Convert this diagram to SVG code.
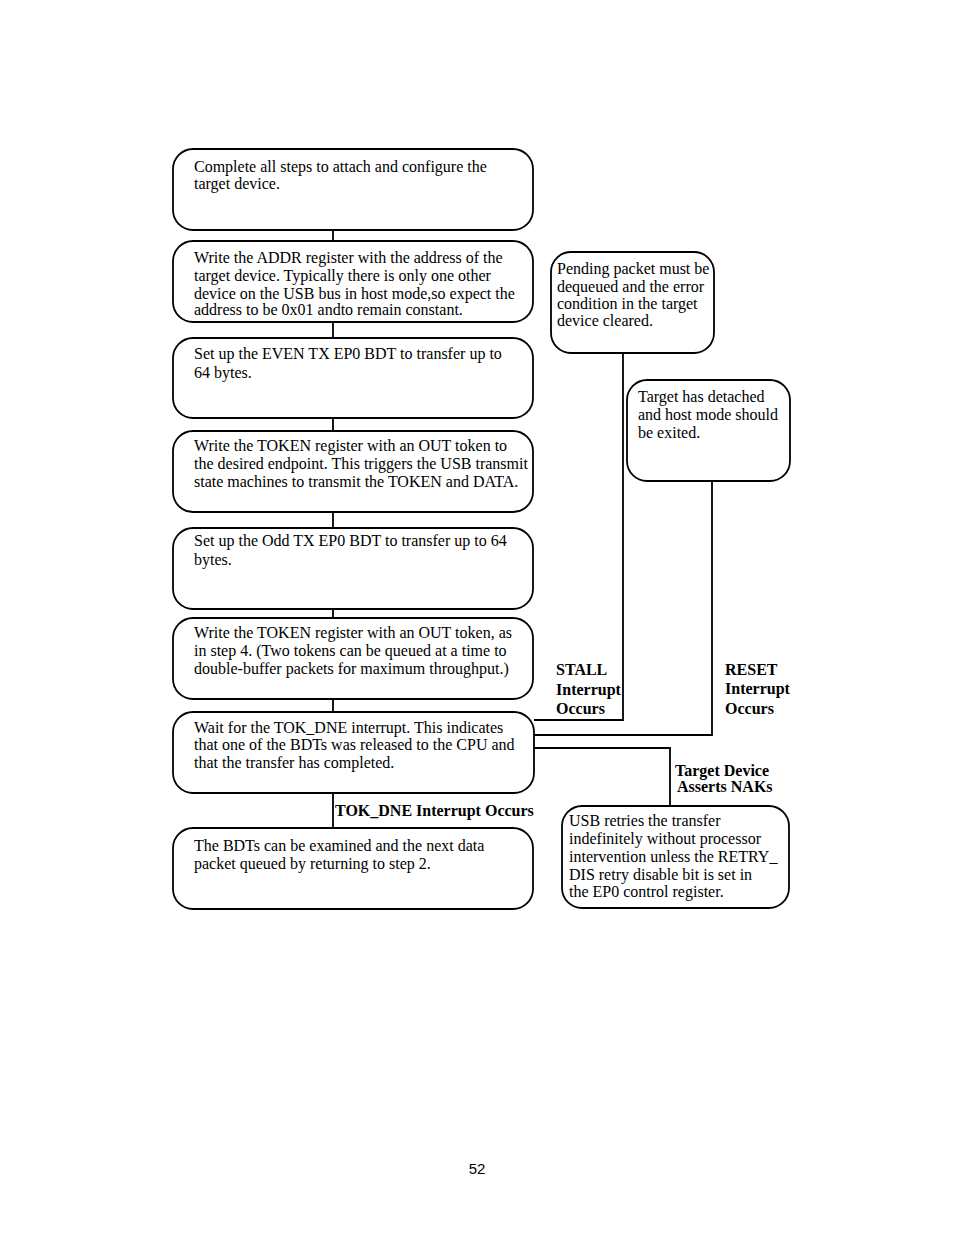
<svg xmlns="http://www.w3.org/2000/svg" width="954" height="1235" viewBox="0 0 954 1235">
<style>
.box{fill:#fff;stroke:#000;stroke-width:1.8}
.t{font-family:"Liberation Serif",serif;font-size:16px;fill:#000}
.b{font-family:"Liberation Serif",serif;font-size:16px;font-weight:bold;fill:#000}
.c{fill:none;stroke:#000;stroke-width:1.8}
.pg{font-family:"Liberation Sans",sans-serif;font-size:15px;fill:#000}
</style>
<rect width="954" height="1235" fill="#fff"/>
<g id="connectors">
<path class="c" d="M333 230V241M333 322V338M333 418V431M333 512V528M333 609V618M333 699V712M333 793V828"/>
<path class="c" d="M534 720H623V354"/>
<path class="c" d="M534 735H712V482"/>
<path class="c" d="M534 748H670V806"/>
</g>
<g id="n1"><rect class="box" x="173" y="149" width="360" height="81" rx="20"/>
<text class="t" x="194" y="172">Complete all steps to attach and configure the</text>
<text class="t" x="194" y="189">target device.</text></g>
<g id="n2"><rect class="box" x="173" y="241" width="360" height="81" rx="20"/>
<text class="t" x="194" y="263">Write the ADDR register with the address of the</text>
<text class="t" x="194" y="281">target device. Typically there is only one other</text>
<text class="t" x="194" y="299">device on the USB bus in host mode,so expect the</text>
<text class="t" x="194" y="315">address to be 0x01 andto remain constant.</text></g>
<g id="n3"><rect class="box" x="173" y="338" width="360" height="80" rx="20"/>
<text class="t" x="194" y="359">Set up the EVEN TX EP0 BDT to transfer up to</text>
<text class="t" x="194" y="378">64 bytes.</text></g>
<g id="n4"><rect class="box" x="173" y="431" width="360" height="81" rx="20"/>
<text class="t" x="194" y="451">Write the TOKEN register with an OUT token to</text>
<text class="t" x="194" y="469">the desired endpoint. This triggers the USB transmit</text>
<text class="t" x="194" y="487">state machines to transmit the TOKEN and DATA.</text></g>
<g id="n5"><rect class="box" x="173" y="528" width="360" height="81" rx="20"/>
<text class="t" x="194" y="546">Set up the Odd TX EP0 BDT to transfer up to 64</text>
<text class="t" x="194" y="565">bytes.</text></g>
<g id="n6"><rect class="box" x="173" y="618" width="360" height="81" rx="20"/>
<text class="t" x="194" y="638">Write the TOKEN register with an OUT token, as</text>
<text class="t" x="194" y="656">in step 4. (Two tokens can be queued at a time to</text>
<text class="t" x="194" y="674">double-buffer packets for maximum throughput.)</text></g>
<g id="n7"><rect class="box" x="173" y="712" width="361" height="81" rx="20"/>
<text class="t" x="194" y="733">Wait for the TOK_DNE interrupt. This indicates</text>
<text class="t" x="194" y="750">that one of the BDTs was released to the CPU and</text>
<text class="t" x="194" y="768">that the transfer has completed.</text></g>
<g id="n8"><rect class="box" x="173" y="828" width="360" height="81" rx="20"/>
<text class="t" x="194" y="851">The BDTs can be examined and the next data</text>
<text class="t" x="194" y="869">packet queued by returning to step 2.</text></g>
<g id="n9"><rect class="box" x="551" y="252" width="163" height="101" rx="20"/>
<text class="t" x="557" y="274">Pending packet must be</text>
<text class="t" x="557" y="292">dequeued and the error</text>
<text class="t" x="557" y="309">condition in the target</text>
<text class="t" x="557" y="326">device cleared.</text></g>
<g id="n10"><rect class="box" x="627" y="380" width="163" height="101" rx="20"/>
<text class="t" x="638" y="402">Target has detached</text>
<text class="t" x="638" y="420">and host mode should</text>
<text class="t" x="638" y="438">be exited.</text></g>
<g id="n11"><rect class="box" x="562" y="806" width="227" height="102" rx="20"/>
<text class="t" x="569" y="826">USB retries the transfer</text>
<text class="t" x="569" y="844">indefinitely without processor</text>
<text class="t" x="569" y="862">intervention unless the RETRY_</text>
<text class="t" x="569" y="880">DIS retry disable bit is set in</text>
<text class="t" x="569" y="897">the EP0 control register.</text></g>
<g id="labels">
<text class="b" x="556" y="675">STALL</text>
<text class="b" x="556" y="695">Interrupt</text>
<text class="b" x="556" y="714">Occurs</text>
<text class="b" x="725" y="675">RESET</text>
<text class="b" x="725" y="694">Interrupt</text>
<text class="b" x="725" y="714">Occurs</text>
<text class="b" x="675" y="776">Target Device</text>
<text class="b" x="677" y="792">Asserts NAKs</text>
<text class="b" x="335" y="816">TOK_DNE Interrupt Occurs</text>
</g>
<text class="pg" x="477" y="1174" text-anchor="middle">52</text>
</svg>
